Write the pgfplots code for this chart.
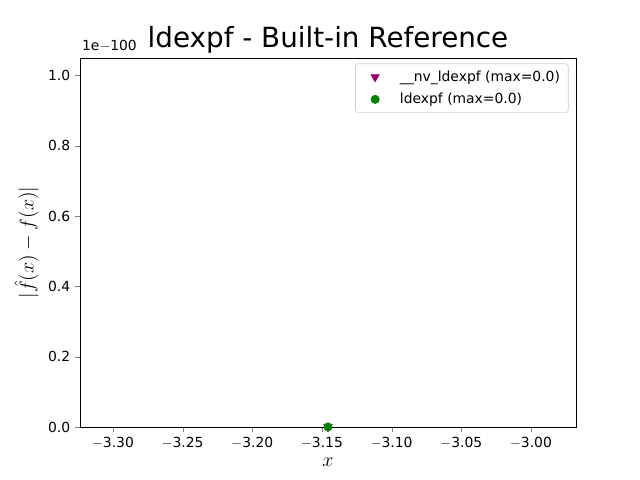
\documentclass[border=0pt]{standalone}
\usepackage{pgfplots}
\pgfplotsset{compat=1.18}
\usepackage{fontspec}
\setmainfont{DejaVu Sans}
\begin{document}
\begin{tikzpicture}
\useasboundingbox (-57.6pt,-38.2pt) rectangle (403.2pt,307.4pt);
\begin{axis}[
  at={(0,0)}, anchor=south west,
  width=357.1pt, height=265.7pt, scale only axis,
  xmin=-3.3237, xmax=-2.9677, ymin=0, ymax=1.05,
  xtick={-3.30,-3.25,-3.20,-3.15,-3.10,-3.05,-3.00},
  xticklabels={$-$3.30,$-$3.25,$-$3.20,$-$3.15,$-$3.10,$-$3.05,$-$3.00},
  ytick={0,0.2,0.4,0.6,0.8,1.0},
  yticklabels={0.0,0.2,0.4,0.6,0.8,1.0},
  tick align=outside, tick pos=lower,
  major tick length=3.5pt,
  ticklabel style={font=\fontsize{10}{12}\selectfont},
  xlabel={\fontsize{14}{16}\selectfont $x$},
  ylabel={\fontsize{14}{16}\selectfont $|\hat{f}(x)-f(x)|$},
  title={\fontsize{20}{24}\selectfont ldexpf - Built-in Reference},
  title style={yshift=-6pt},
  legend style={at={(0.985,0.985)}, anchor=north east, font=\fontsize{10}{12}\selectfont, draw=black!20, rounded corners=2pt, cells={anchor=west}, row sep=3pt, inner xsep=4pt, inner ysep=3pt},
  legend image code/.code={\draw[#1] (0.35cm,0cm) plot coordinates {(0.35cm,0cm)}; \path (0cm,0cm) (0.9cm,0cm);},
  legend cell align=left,
  clip=false,
]
\addplot[only marks, mark=triangle*, mark options={rotate=180, fill=violet!60!purple, draw=violet!60!purple}, color=purple!70!blue, mark size=3.5pt] coordinates {(-3.1457,0)};
\addlegendentry{\_\_nv\_ldexpf (max=0.0)}
\addplot[only marks, mark=*, color=green!50!black, mark size=3pt] coordinates {(-3.1457,0)};
\addlegendentry{ldexpf (max=0.0)}
\end{axis}
\node[anchor=south west, font=\fontsize{10}{12}\selectfont] at (-2pt,267pt) {1e$-$100};
\end{tikzpicture}
\end{document}
